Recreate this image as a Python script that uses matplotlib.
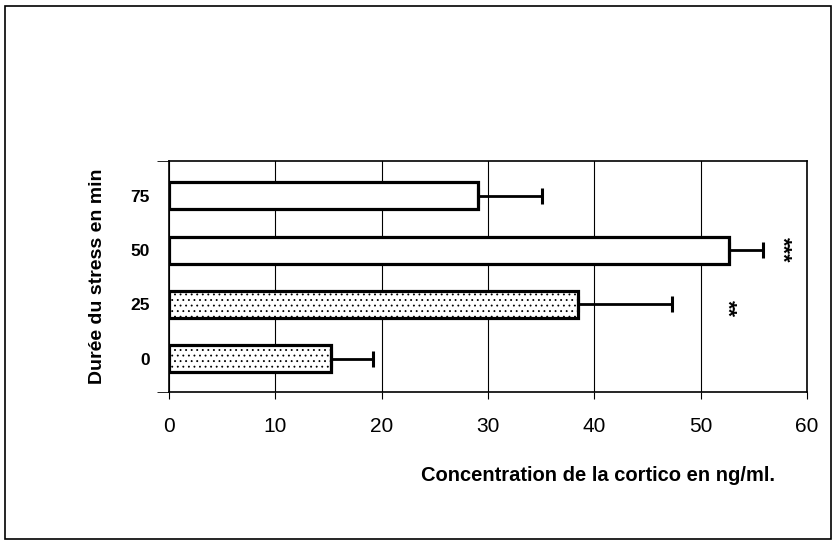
import matplotlib.pyplot as plt
from matplotlib.patches import Rectangle

# durée du stress (min) et concentration de corticostérone (ng/ml)
durees = ['0', '25', '50', '75']
concentrations = [15.2, 38.5, 52.7, 29.1]
erreurs = [4.0, 8.8, 3.2, 6.0]
motifs = ['...', '...', '', '']
# significativité : barre concernée et nombre d'étoiles
etoiles = {1: '**', 2: '***'}

plt.rcParams['font.family'] = ['Liberation Sans', 'DejaVu Sans']
plt.rcParams['hatch.color'] = '#a5a5a5'
plt.rcParams['hatch.linewidth'] = 0.6

fig = plt.figure(figsize=(8.33, 5.42), dpi=100)
ax = fig.add_axes([0.2029, 0.2768, 0.7659, 0.4262])

pos = list(range(len(durees)))
barres = ax.barh(pos, concentrations, height=0.5, color='white',
                 edgecolor='black', linewidth=2.3, zorder=3)
for b, m in zip(barres, motifs):
    b.set_hatch(m)
ax.errorbar(concentrations, pos, xerr=[[0] * len(erreurs), erreurs],
            fmt='none', ecolor='black', elinewidth=2, capsize=6,
            capthick=2.2, zorder=4)

# étoiles écrites verticalement à droite des barres
pos_etoiles = {1: (52.45, 0.93), 2: (57.65, 2.0)}
for i, txt in etoiles.items():
    x, y = pos_etoiles[i]
    ax.text(x, y, txt, rotation=-90, ha='center', va='center',
            fontsize=15.5, fontweight='bold')

ax.set_xlim(0, 60)
ax.set_ylim(-0.61, 3.64)
ax.set_xticks(range(0, 61, 10))
ax.xaxis.grid(True, color='black', linewidth=0.8)
ax.set_axisbelow(True)
ax.tick_params(axis='x', direction='out', length=5, labelsize=15, pad=13)

ax.set_yticks(pos)
ax.set_yticklabels(durees, fontsize=12.5, fontweight='bold')
ax.set_yticks([-0.61, 3.64], minor=True)
ax.tick_params(axis='y', which='major', length=0, pad=14)
ax.tick_params(axis='y', which='minor', direction='out', length=9)

for s in ax.spines.values():
    s.set_linewidth(1.2)

ax.set_ylabel('Durée du stress en min', fontsize=14, fontweight='bold',
              labelpad=17)
fig.text(0.718, 0.122, 'Concentration de la cortico en ng/ml.',
         ha='center', va='center', fontsize=14.5, fontweight='bold')

# cadre autour de la figure
fig.patches.append(Rectangle((0.006, 0.006), 0.991, 0.983,
                             transform=fig.transFigure, fill=False,
                             edgecolor='black', linewidth=1.2))

fig.savefig('out.png', dpi=100)
